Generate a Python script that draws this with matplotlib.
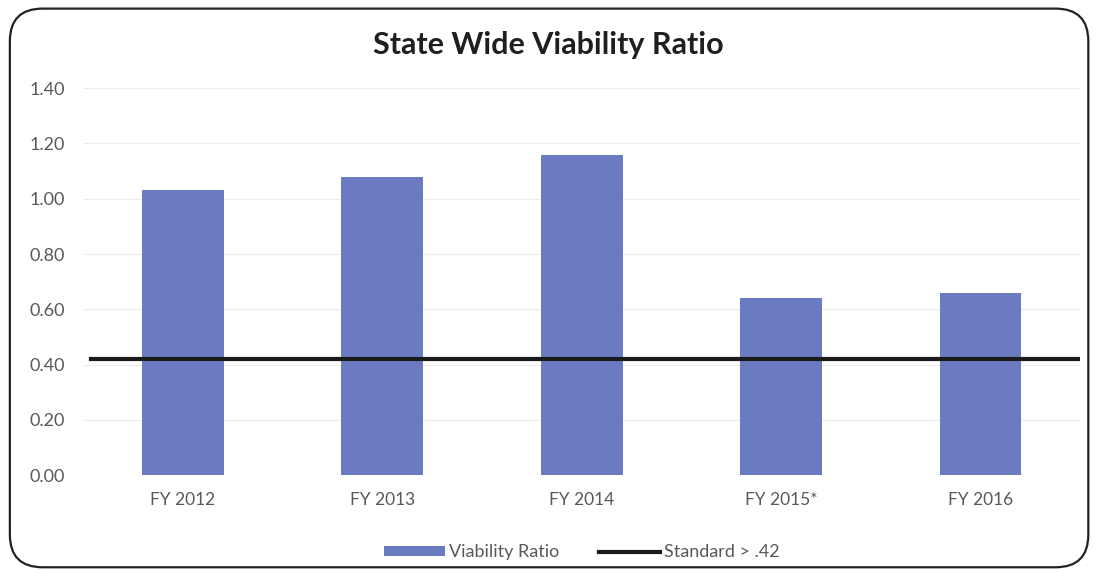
import matplotlib.pyplot as plt
from matplotlib.patches import FancyBboxPatch

years = ["FY 2012", "FY 2013", "FY 2014", "FY 2015*", "FY 2016"]
ratio = [1.03, 1.08, 1.16, 0.64, 0.66]
standard = 0.42
yticks = [0.0, 0.2, 0.4, 0.6, 0.8, 1.0, 1.2, 1.4]

plt.rcParams['font.family'] = ['Lato', 'DejaVu Sans']

fig = plt.figure(figsize=(10.96, 5.73), dpi=100)
ax = fig.add_axes([0.0757, 0.171, 0.910, 0.675])

x = range(len(years))
bars = ax.bar(x, ratio, width=0.41, color="#6a7bc2", label="Viability Ratio", zorder=2)
line, = ax.plot([-0.46, 4.5], [standard, standard], color="#1a1a1a", lw=3,
                label="Standard > .42", zorder=3)

ax.set_xlim(-0.5, 4.5)
ax.set_ylim(0, 1.4)
ax.set_yticks(yticks)
ax.set_yticklabels([f"{v:.2f}" for v in yticks])
ax.set_xticks(list(x))
ax.set_xticklabels(years)
ax.tick_params(length=0, labelsize=12.5, colors="#595959", pad=12)
ax.tick_params(axis="y", labelsize=13, pad=13)
ax.grid(axis="y", color="#ececec", lw=0.8, zorder=0)
for s in ax.spines.values():
    s.set_visible(False)

fig.text(0.5, 0.921, "State Wide Viability Ratio", ha="center", va="center",
         fontsize=22, fontweight="bold", color="#1f1f1f")

leg = ax.legend([bars, line], ["Viability Ratio", "Standard > .42"],
                loc="center", bbox_to_anchor=(0.5, -0.2), ncol=2, frameon=False,
                fontsize=13, handlelength=3.4, handleheight=0.5, columnspacing=2.2,
                handletextpad=0.2)
for t in leg.get_texts():
    t.set_color("#595959")

border = FancyBboxPatch((0.009, 0.01), 0.984, 0.975, transform=fig.transFigure,
                        boxstyle="round,pad=0,rounding_size=0.03", fill=False,
                        ec="#222222", lw=1.6, mutation_aspect=1.9)
fig.patches.append(border)

plt.savefig("out.png", dpi=100)
